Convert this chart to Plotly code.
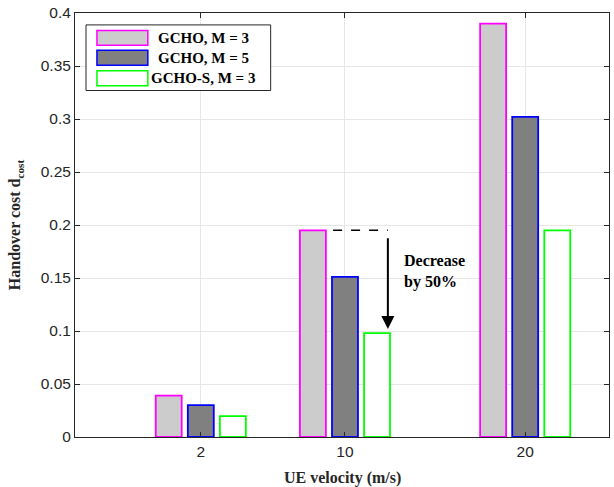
import plotly.graph_objects as go

# UE velocity (m/s) and handover cost per scheme
velocity = [2, 10, 20]
series_names = ["GCHO, M = 3", "GCHO, M = 5", "GCHO-S, M = 3"]
gcho_m3 = [0.039, 0.195, 0.390]
gcho_m5 = [0.030, 0.151, 0.302]
gcho_s_m3 = [0.0197, 0.098, 0.195]

fills = ["#cccccc", "#808080", "#ffffff"]
edges = ["#ff00ff", "#0000ff", "#00ff00"]

bar_w = 1.44
pitch = 1.78
serif = "Liberation Serif, Times New Roman, serif"
sans = "Liberation Sans, Arial, Helvetica, sans-serif"

fig = go.Figure()
for i, (name, vals) in enumerate(zip(series_names, [gcho_m3, gcho_m5, gcho_s_m3])):
    shift = (i - 1) * pitch
    fig.add_trace(go.Bar(
        x=velocity, y=vals, name=name,
        width=bar_w, offset=shift - bar_w / 2,
        marker=dict(color=fills[i], line=dict(color=edges[i], width=1.8)),
        showlegend=False,
    ))

# Dashed reference at the GCHO (M = 3) level and arrow down to GCHO-S
ref_y = gcho_m3[1]
low_y = gcho_s_m3[1]
arrow_x = velocity[1] + 2.38
fig.add_shape(type="line", xref="x", yref="y",
              x0=velocity[1] - 0.66, x1=arrow_x, y0=ref_y, y1=ref_y,
              line=dict(color="black", width=1.5, dash="dash"))
fig.add_annotation(x=arrow_x, y=low_y + 0.004, ax=arrow_x, ay=ref_y - 0.006,
                   xref="x", yref="y", axref="x", ayref="y",
                   showarrow=True, arrowhead=2, arrowsize=1.3, arrowwidth=2,
                   arrowcolor="black", text="")
fig.add_annotation(x=velocity[1] + 3.16, y=0.156, xref="x", yref="y",
                   text="<b>Decrease<br>by 50%</b>", showarrow=False,
                   xanchor="left", align="left",
                   font=dict(family=serif, size=16, color="black"))

# Legend box drawn in paper coordinates
lx0, lx1, ly0, ly1 = 0.0206, 0.3664, 0.8172, 0.9719
fig.add_shape(type="rect", xref="paper", yref="paper", x0=lx0, x1=lx1, y0=ly0, y1=ly1,
              line=dict(color="#262626", width=1), fillcolor="white", layer="above")
row_y = [0.9414, 0.8946, 0.846]
for i, name in enumerate(series_names):
    fig.add_shape(type="rect", xref="paper", yref="paper",
                  x0=0.0411, x1=0.1364, y0=row_y[i] - 0.0176, y1=row_y[i] + 0.0176,
                  line=dict(color=edges[i], width=1.5), fillcolor=fills[i], layer="above")
    fig.add_annotation(x=0.2402, y=row_y[i], xref="paper", yref="paper",
                       text=f"<b>{name}</b>", showarrow=False, xanchor="center", yanchor="middle",
                       font=dict(family=serif, size=15, color="black"))

# Axis titles
fig.add_annotation(x=0.5, y=-0.097, xref="paper", yref="paper",
                   text="<b>UE velocity (m/s)</b>", showarrow=False,
                   xanchor="center", yanchor="middle",
                   font=dict(family=serif, size=16, color="#262626"))
fig.add_annotation(x=-0.112, y=0.5, xref="paper", yref="paper",
                   text="<b>Handover cost d<sub>cost</sub></b>", showarrow=False,
                   textangle=-90, xanchor="center", yanchor="middle",
                   font=dict(family=serif, size=16, color="#262626"))

axis_common = dict(
    showline=True, linecolor="#262626", linewidth=1, mirror="allticks",
    ticks="inside", ticklen=5, tickcolor="#262626",
    showgrid=True, gridcolor="#e6e6e6", gridwidth=1, zeroline=False,
    tickfont=dict(family=sans, size=15.5, color="#262626"),
)
fig.update_xaxes(range=[-4.98, 24.65], tickvals=velocity, ticktext=[str(v) for v in velocity],
                 **axis_common)
fig.update_yaxes(range=[0, 0.4], dtick=0.05, tickformat="~g", **axis_common)

fig.update_layout(
    width=614, height=487, barmode="overlay",
    margin=dict(l=75, r=4, t=10, b=50),
    plot_bgcolor="white", paper_bgcolor="white",
)
fig.write_html("out.html")
